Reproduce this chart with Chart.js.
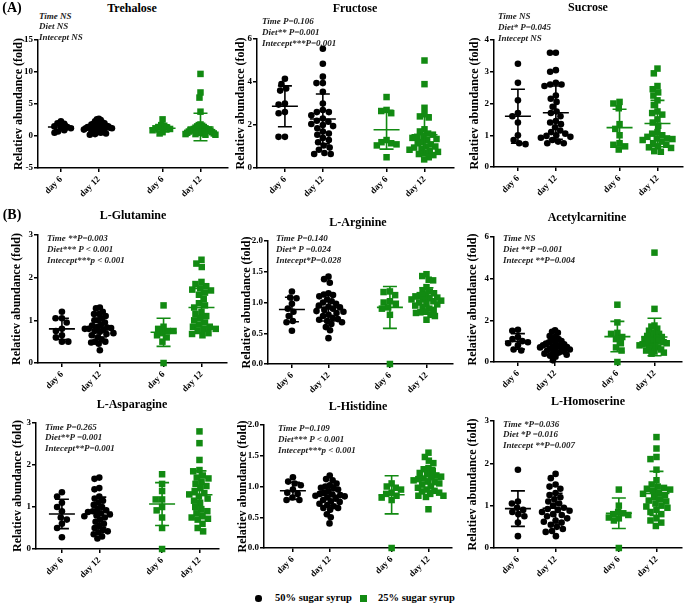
<!DOCTYPE html>
<html><head><meta charset="utf-8">
<script src="https://cdn.jsdelivr.net/npm/chart.js@4"></script>
<style>
html,body{margin:0;padding:0;background:#fff;}
#wrap{position:relative;width:685px;height:605px;overflow:hidden;font-family:"Liberation Serif","Times New Roman",serif;}
canvas{position:absolute;}
.t{position:absolute;transform:translate(-50%,-50%);font-weight:bold;font-size:12px;white-space:nowrap;color:#000;}
.lab{position:absolute;transform:translate(-50%,-50%);font-weight:bold;font-size:14px;white-space:nowrap;color:#000;}
.a{position:absolute;font-weight:bold;font-style:italic;font-size:9px;white-space:nowrap;color:#222;line-height:11px;}
.lg{position:absolute;font-weight:bold;font-size:10.5px;white-space:nowrap;color:#000;line-height:12px;}
.mk{position:absolute;}
</style></head>
<body><div id="wrap"></div>
<script>
// ---------- data ----------
const CATEGORIES = ['day 6', 'day 12', 'day 6', 'day 12'];
const SERIES = ['50% sugar syrup', '25% sugar syrup'];
const Y_TITLE = 'Relatiev abundance (fold)';

const trehalose_50 = [[2.0, 1.9, 2.3, 1.5, 1.4, 1.3, 1.2, 0.9, 0.7, 0.5],
  [2.7, 2.6, 2.5, 2.3, 2.1, 2.0, 1.9, 1.8, 1.7, 1.6, 1.6, 1.5, 1.5, 1.4, 1.4, 1.3, 1.3, 1.2, 1.2, 1.1, 1.0, 1.0, 0.9, 0.8, 0.7, 0.6, 0.5, 0.4, 0.3, 0.2]];
const trehalose_25 = [[2.6, 1.7, 1.6, 1.4, 1.3, 1.2, 1.1, 0.9, 0.6, 0.4],
  [9.7, 6.8, 6.0, 3.8, 1.8, 1.7, 1.6, 1.5, 1.4, 1.3, 1.2, 1.1, 1.0, 1.0, 0.9, 0.9, 0.8, 0.8, 0.7, 0.7, 0.6, 0.6, 0.5, 0.5, 0.4, 0.4, 0.3, 0.3, 0.2, 0.2]];
const trehalose_mean = [1.4, 1.45, 1.2, 1.4];
const trehalose_sd = [0.45, 0.6, 0.55, 2.15];
const trehalose_yticks = [-5, 0, 5, 10, 15];
const trehalose_stats = ['Time NS', 'Diet NS', 'Intecept NS'];

const fructose_50 = [[4.15, 3.9, 3.7, 3.6, 3.0, 2.95, 2.6, 2.55, 1.45, 1.45],
  [5.55, 4.85, 4.25, 3.95, 3.95, 3.55, 3.0, 2.7, 2.6, 2.6, 2.45, 2.3, 2.2, 2.15, 2.05, 2.0, 1.95, 1.85, 1.7, 1.6, 1.55, 1.4, 1.3, 1.2, 1.05, 0.95, 0.85, 0.7, 0.65, 0.65]];
const fructose_25 = [[3.3, 2.7, 2.65, 2.55, 1.3, 1.2, 1.15, 1.1, 1.05, 0.5],
  [5.0, 3.9, 2.8, 2.5, 2.4, 2.35, 1.8, 1.7, 1.6, 1.55, 1.5, 1.45, 1.4, 1.35, 1.3, 1.2, 1.15, 1.1, 1.0, 1.0, 0.95, 0.9, 0.85, 0.8, 0.75, 0.7, 0.65, 0.6, 0.5, 0.4]];
const fructose_mean = [2.87, 2.28, 1.78, 1.55];
const fructose_sd = [0.95, 1.16, 0.9, 0.93];
const fructose_yticks = [0, 2, 4, 6];
const fructose_stats = ['Time P=0.106', 'Diet** P=0.001', 'Intecept***P=0.001'];

const sucrose_50 = [[3.25, 2.65, 2.1, 1.7, 1.6, 1.4, 1.0, 0.85, 0.75, 0.72],
  [3.6, 3.6, 3.05, 3.0, 2.65, 2.6, 2.6, 2.55, 2.25, 2.15, 2.05, 1.9, 1.75, 1.7, 1.6, 1.45, 1.4, 1.35, 1.25, 1.15, 1.1, 1.05, 1.0, 0.98, 0.95, 0.92, 0.85, 0.8, 0.75, 0.75]];
const sucrose_25 = [[2.05, 2.0, 1.85, 1.35, 1.2, 1.0, 0.75, 0.7, 0.65, 0.55],
  [3.1, 2.95, 2.55, 2.45, 2.35, 2.25, 2.1, 1.95, 1.75, 1.7, 1.65, 1.5, 1.4, 1.3, 1.1, 1.05, 1.0, 0.95, 0.9, 0.9, 0.88, 0.85, 0.8, 0.75, 0.7, 0.65, 0.62, 0.6, 0.5, 0.48]];
const sucrose_mean = [1.6, 1.71, 1.24, 1.37];
const sucrose_sd = [0.85, 0.84, 0.58, 0.73];
const sucrose_yticks = [0, 1, 2, 3, 4];
const sucrose_stats = ['Time NS', 'Diet* P=0.045', 'Intecept NS'];

const glutamine_50 = [[1.2, 1.05, 1.05, 0.95, 0.8, 0.75, 0.65, 0.6, 0.5, 0.5],
  [1.28, 1.3, 1.2, 1.15, 1.15, 1.1, 1.05, 1.0, 1.0, 0.95, 0.9, 0.88, 0.85, 0.83, 0.82, 0.8, 0.8, 0.78, 0.75, 0.73, 0.7, 0.68, 0.65, 0.6, 0.55, 0.5, 0.5, 0.48, 0.45, 0.3]];
const glutamine_25 = [[1.35, 0.85, 0.8, 0.75, 0.75, 0.7, 0.65, 0.6, 0.5, 0.0],
  [2.42, 2.33, 2.25, 1.9, 1.85, 1.8, 1.75, 1.72, 1.7, 1.65, 1.6, 1.5, 1.4, 1.35, 1.3, 1.2, 1.15, 1.1, 1.05, 1.0, 0.95, 0.9, 0.85, 0.85, 0.8, 0.8, 0.75, 0.7, 0.68, 0.65]];
const glutamine_mean = [0.8, 0.83, 0.72, 1.3];
const glutamine_sd = [0.25, 0.22, 0.33, 0.45];
const glutamine_yticks = [0, 1, 2, 3];
const glutamine_stats = ['Time **P=0.003', 'Diet*** P < 0.001', 'Intecept***p < 0.001'];

const arginine_50 = [[1.18, 1.08, 1.07, 0.98, 0.9, 0.85, 0.78, 0.7, 0.68, 0.54],
  [1.42, 1.38, 1.32, 1.15, 1.13, 1.12, 1.1, 1.05, 1.02, 1.0, 0.98, 0.95, 0.93, 0.92, 0.9, 0.88, 0.86, 0.85, 0.83, 0.8, 0.78, 0.75, 0.73, 0.72, 0.7, 0.68, 0.65, 0.6, 0.55, 0.42]];
const arginine_25 = [[1.18, 1.17, 1.12, 1.02, 1.0, 0.98, 0.92, 0.9, 0.8, 0.0],
  [1.46, 1.43, 1.37, 1.36, 1.25, 1.2, 1.18, 1.15, 1.13, 1.12, 1.1, 1.08, 1.07, 1.05, 1.05, 1.03, 1.02, 1.0, 0.98, 0.97, 0.95, 0.93, 0.9, 0.88, 0.85, 0.84, 0.83, 0.8, 0.78, 0.72]];
const arginine_mean = [0.886, 0.92, 0.92, 1.06];
const arginine_sd = [0.2, 0.22, 0.34, 0.18];
const arginine_yticks = [0, 0.5, 1, 1.5, 2];
const arginine_stats = ['Time P=0.140', 'Diet* P =0.024', 'Intecept*P=0.028'];

const acetylcarnitine_50 = [[1.55, 1.5, 1.2, 1.1, 1.0, 0.95, 0.9, 0.8, 0.6, 0.55],
  [1.52, 1.45, 1.4, 1.25, 1.2, 1.1, 1.05, 1.0, 0.95, 0.9, 0.88, 0.85, 0.8, 0.78, 0.75, 0.72, 0.7, 0.68, 0.65, 0.6, 0.58, 0.55, 0.5, 0.45, 0.42, 0.4, 0.35, 0.3, 0.25, 0.08]];
const acetylcarnitine_25 = [[2.75, 1.9, 1.4, 1.35, 1.2, 1.1, 0.9, 0.7, 0.55, 0.0],
  [5.25, 2.55, 1.75, 1.7, 1.6, 1.5, 1.4, 1.35, 1.3, 1.25, 1.2, 1.15, 1.1, 1.05, 1.0, 1.0, 0.95, 0.9, 0.9, 0.85, 0.8, 0.8, 0.75, 0.7, 0.65, 0.6, 0.55, 0.5, 0.45, 0.4]];
const acetylcarnitine_mean = [0.99, 0.75, 1.22, 1.2];
const acetylcarnitine_sd = [0.37, 0.36, 0.73, 0.9];
const acetylcarnitine_yticks = [0, 2, 4, 6];
const acetylcarnitine_stats = ['Time NS', 'Diet **P =0.001', 'Intecept **P=0.004'];

const asparagine_50 = [[1.35, 1.25, 1.1, 1.0, 0.9, 0.75, 0.7, 0.6, 0.5, 0.28],
  [1.7, 1.67, 1.45, 1.42, 1.25, 1.2, 1.15, 1.1, 1.05, 1.0, 0.95, 0.92, 0.9, 0.88, 0.85, 0.82, 0.8, 0.78, 0.75, 0.7, 0.65, 0.6, 0.55, 0.5, 0.45, 0.42, 0.4, 0.35, 0.3, 0.25]];
const asparagine_25 = [[1.78, 1.55, 1.38, 1.18, 1.18, 1.0, 0.92, 0.75, 0.5, 0.0],
  [2.8, 2.52, 2.12, 1.88, 1.85, 1.75, 1.7, 1.68, 1.6, 1.55, 1.5, 1.45, 1.38, 1.33, 1.3, 1.25, 1.2, 1.15, 1.1, 1.0, 0.95, 0.9, 0.85, 0.8, 0.75, 0.72, 0.7, 0.6, 0.5, 0.42]];
const asparagine_mean = [0.835, 0.875, 1.07, 1.29];
const asparagine_sd = [0.35, 0.36, 0.51, 0.57];
const asparagine_yticks = [0, 1, 2, 3];
const asparagine_stats = ['Time P=0.265', 'Diet**P =0.001', 'Intecept**P=0.001'];

const histidine_50 = [[1.15, 1.08, 1.05, 1.02, 0.95, 0.9, 0.88, 0.82, 0.78, 0.78],
  [1.18, 1.12, 1.1, 1.05, 1.02, 1.0, 0.98, 0.97, 0.95, 0.92, 0.9, 0.88, 0.87, 0.86, 0.85, 0.84, 0.82, 0.8, 0.78, 0.76, 0.75, 0.72, 0.7, 0.68, 0.65, 0.65, 0.62, 0.55, 0.5, 0.4]];
const histidine_25 = [[1.05, 1.0, 0.98, 0.95, 0.9, 0.88, 0.85, 0.82, 0.78, 0.0],
  [1.55, 1.48, 1.42, 1.38, 1.3, 1.28, 1.25, 1.22, 1.2, 1.18, 1.16, 1.15, 1.13, 1.12, 1.1, 1.08, 1.07, 1.05, 1.03, 1.0, 0.98, 0.95, 0.93, 0.92, 0.9, 0.88, 0.85, 0.85, 0.83, 0.63]];
const histidine_mean = [0.93, 0.855, 0.865, 1.12];
const histidine_sd = [0.14, 0.17, 0.31, 0.19];
const histidine_yticks = [0, 0.5, 1, 1.5, 2];
const histidine_stats = ['Time P=0.109', 'Diet*** P < 0.001', 'Intecept***p < 0.001'];

const homoserine_50 = [[1.85, 1.1, 1.05, 0.95, 0.9, 0.85, 0.8, 0.75, 0.6, 0.28],
  [1.75, 1.65, 1.5, 1.45, 1.4, 1.3, 1.25, 1.2, 1.15, 1.1, 1.05, 1.0, 0.95, 0.92, 0.9, 0.88, 0.85, 0.8, 0.78, 0.75, 0.7, 0.65, 0.62, 0.6, 0.55, 0.5, 0.45, 0.4, 0.38, 0.28]];
const homoserine_25 = [[1.38, 1.0, 0.85, 0.82, 0.8, 0.78, 0.72, 0.7, 0.65, 0.0],
  [2.62, 2.35, 2.15, 2.1, 1.85, 1.6, 1.5, 1.45, 1.42, 1.4, 1.38, 1.35, 1.3, 1.28, 1.25, 1.2, 1.15, 1.12, 1.1, 1.05, 1.0, 0.98, 0.95, 0.9, 0.85, 0.8, 0.7, 0.65, 0.6, 0.52]];
const homoserine_mean = [0.93, 0.94, 0.82, 1.29];
const homoserine_sd = [0.42, 0.35, 0.36, 0.52];
const homoserine_yticks = [0, 1, 2, 3];
const homoserine_stats = ['Time *P=0.036', 'Diet *P =0.016', 'Intecept **P=0.007'];

// ---------- layout (pixel placement of each panel) ----------
const BLACK = '#000000', GREEN = '#128a12';
const POS = [0, 1, 2.68, 3.68];
const PANELS = [
  {title: 'Trehalose', d50: trehalose_50, d25: trehalose_25, mean: trehalose_mean, sd: trehalose_sd, yt: trehalose_yticks, stats: trehalose_stats,
   L: 38, R: 228, T: 40, B: 168, c1: 61, c4: 201, tx: 132, ty: 8, ax: 39, ay: 16, ad: 10.5, yto: 19},
  {title: 'Fructose', d50: fructose_50, d25: fructose_25, mean: fructose_mean, sd: fructose_sd, yt: fructose_yticks, stats: fructose_stats,
   L: 257, R: 454, T: 39, B: 168, c1: 285, c4: 425, tx: 355, ty: 8, ax: 262, ay: 21, ad: 11, yto: 16},
  {title: 'Sucrose', d50: sucrose_50, d25: sucrose_25, mean: sucrose_mean, sd: sucrose_sd, yt: sucrose_yticks, stats: sucrose_stats,
   L: 494, R: 683, T: 40, B: 167, c1: 518, c4: 658, tx: 588, ty: 7, ax: 498, ay: 16, ad: 11, yto: 19},
  {title: 'L-Glutamine', d50: glutamine_50, d25: glutamine_25, mean: glutamine_mean, sd: glutamine_sd, yt: glutamine_yticks, stats: glutamine_stats,
   L: 38, R: 227, T: 235, B: 363, c1: 62, c4: 202, tx: 133, ty: 215, ax: 47, ay: 238, ad: 11, yto: 21},
  {title: 'L-Arginine', d50: arginine_50, d25: arginine_25, mean: arginine_mean, sd: arginine_sd, yt: arginine_yticks, stats: arginine_stats, dec: 1,
   L: 268, R: 453, T: 241, B: 364, c1: 292, c4: 427, tx: 358, ty: 222, ax: 276, ay: 238, ad: 11, yto: 21},
  {title: 'Acetylcarnitine', d50: acetylcarnitine_50, d25: acetylcarnitine_25, mean: acetylcarnitine_mean, sd: acetylcarnitine_sd, yt: acetylcarnitine_yticks, stats: acetylcarnitine_stats,
   L: 494, R: 682, T: 237, B: 362, c1: 518, c4: 655, tx: 587, ty: 217, ax: 503, ay: 238, ad: 11, yto: 21},
  {title: 'L-Asparagine', d50: asparagine_50, d25: asparagine_25, mean: asparagine_mean, sd: asparagine_sd, yt: asparagine_yticks, stats: asparagine_stats,
   L: 36, R: 219, T: 423, B: 549, c1: 62, c4: 200, tx: 132, ty: 404, ax: 45, ay: 427, ad: 10.5, yto: 18},
  {title: 'L-Histidine', d50: histidine_50, d25: histidine_25, mean: histidine_mean, sd: histidine_sd, yt: histidine_yticks, stats: histidine_stats, dec: 1,
   L: 264, R: 452, T: 425, B: 548, c1: 293, c4: 429, tx: 358, ty: 406, ax: 278, ay: 428, ad: 11, yto: 21},
  {title: 'L-Homoserine', d50: homoserine_50, d25: homoserine_25, mean: homoserine_mean, sd: homoserine_sd, yt: homoserine_yticks, stats: homoserine_stats,
   L: 494, R: 682, T: 421, B: 548, c1: 518, c4: 657, tx: 588, ty: 401, ax: 503, ay: 424, ad: 10.5, yto: 21}
];

Chart.defaults.font.family = '"Liberation Serif", "Times New Roman", serif';
Chart.defaults.color = '#000';

// beeswarm horizontal offsets (pixels), then compressed to the group width
function swarm(vals, unitY, d, cap) {
  const order = vals.map((v, i) => i).sort((a, b) => vals[b] - vals[a]);
  const placed = [], off = new Array(vals.length).fill(0);
  for (const i of order) {
    const y = vals[i] * unitY;
    const cands = [0];
    for (const q of placed) {
      const dy = Math.abs(q.y - y);
      if (dy < d) { const dx = Math.sqrt(d * d - dy * dy); cands.push(q.x + dx, q.x - dx); }
    }
    cands.sort((a, b) => Math.abs(a) - Math.abs(b) || a - b);
    let x = cands[cands.length - 1];
    for (const c of cands) {
      if (placed.every(q => (q.x - c) ** 2 + (q.y - y) ** 2 >= d * d - 1e-6)) { x = c; break; }
    }
    placed.push({x, y}); off[i] = x;
  }
  const m = Math.max(...off.map(Math.abs));
  const k = m > cap ? cap / m : 1;
  return off.map(o => o * k);
}

const meanSdPlugin = {
  id: 'meanSd',
  afterDatasetsDraw(chart, args, opts) {
    const {ctx, scales: {x, y}} = chart;
    ctx.save();
    ctx.lineWidth = 1.6;
    opts.groups.forEach(g => {
      const px = x.getPixelForValue(g.pos);
      const ym = y.getPixelForValue(g.mean);
      const yt = y.getPixelForValue(g.mean + g.sd);
      const yb = y.getPixelForValue(g.mean - g.sd);
      ctx.strokeStyle = g.color;
      ctx.beginPath();
      ctx.moveTo(px - 13, ym); ctx.lineTo(px + 13, ym);
      ctx.moveTo(px, yt); ctx.lineTo(px, yb);
      ctx.moveTo(px - 7, yt); ctx.lineTo(px + 7, yt);
      ctx.moveTo(px - 7, yb); ctx.lineTo(px + 7, yb);
      ctx.stroke();
    });
    ctx.restore();
  }
};

const wrap = document.getElementById('wrap');
const AX = 36, PT = 10, PR = 4, XH = 38, PB = 2, D = 6.4;

PANELS.forEach(p => {
  const unitX = (p.c4 - p.c1) / POS[3];
  const xmin = -(p.c1 - p.L) / unitX, xmax = (p.R - p.c1) / unitX;
  const yt = p.yt, ymin = yt[0], ymax = yt[yt.length - 1];
  const unitY = (p.B - p.T) / (ymax - ymin);
  const pts = (groups, g0) => groups.flatMap((vals, k) => {
    const offs = swarm(vals, unitY, D, vals.length <= 12 ? 10 : 15);
    return vals.map((v, i) => ({x: POS[g0 + k] + offs[i] / unitX, y: v}));
  });
  const cv = document.createElement('canvas');
  const w = p.R - p.L + AX + PR, h = p.B - p.T + PT + XH + PB;
  cv.width = w; cv.height = h;
  cv.style.left = (p.L - AX) + 'px'; cv.style.top = (p.T - PT) + 'px';
  wrap.appendChild(cv);
  const groups = [0, 1, 2, 3].map(i => ({pos: POS[i], mean: p.mean[i], sd: p.sd[i], color: i < 2 ? BLACK : GREEN}));
  const axisCommon = {
    grid: {drawOnChartArea: false, drawTicks: true, tickLength: 4, color: '#000', lineWidth: 1.5},
    border: {color: '#000', width: 1.5}
  };
  new Chart(cv, {
    type: 'scatter',
    data: {datasets: [
      {label: SERIES[0], data: pts(p.d50, 0), pointStyle: 'circle', pointRadius: 3.3, pointBorderWidth: 0, backgroundColor: BLACK, borderColor: BLACK, clip: false},
      {label: SERIES[1], data: pts(p.d25, 2), pointStyle: 'rect', pointRadius: 4.6, pointBorderWidth: 0, backgroundColor: GREEN, borderColor: GREEN, clip: false}
    ]},
    options: {
      responsive: false, animation: false, events: [],
      layout: {padding: {left: 0, top: PT, right: PR, bottom: PB}},
      plugins: {legend: {display: false}, tooltip: {enabled: false}, meanSd: {groups}},
      scales: {
        x: Object.assign({
          type: 'linear', min: xmin, max: xmax,
          afterBuildTicks: s => { s.ticks = POS.map(v => ({value: v})); },
          afterFit: s => { s.height = XH; s.paddingLeft = 0; s.paddingRight = 0; },
          ticks: {autoSkip: false, minRotation: 45, maxRotation: 45, padding: 2,
                  font: {size: 9, weight: 'bold'}, callback: v => CATEGORIES[POS.indexOf(v)] ?? ''}
        }, axisCommon),
        y: Object.assign({
          type: 'linear', min: ymin, max: ymax,
          afterBuildTicks: s => { s.ticks = yt.map(v => ({value: v})); },
          afterFit: s => { s.width = AX; s.paddingTop = 0; s.paddingBottom = 0; },
          ticks: {padding: 1, font: {size: 9, weight: 'bold'}, callback: v => p.dec ? v.toFixed(1) : String(v)},
          title: {display: true, text: Y_TITLE, font: {size: 12, weight: 'bold'}, padding: {top: AX - p.yto - 7.2, bottom: 0}}
        }, axisCommon)
      }
    },
    plugins: [meanSdPlugin]
  });
  const t = document.createElement('div'); t.className = 't'; t.textContent = p.title;
  t.style.left = p.tx + 'px'; t.style.top = p.ty + 'px'; wrap.appendChild(t);
  p.stats.forEach((s, k) => {
    const a = document.createElement('div'); a.className = 'a'; a.textContent = s;
    a.style.left = p.ax + 'px'; a.style.top = (p.ay + k * p.ad - 5.5) + 'px'; wrap.appendChild(a);
  });
});

// panel labels
[['(A)', 12, 8], ['(B)', 12, 215]].forEach(([s, x, y]) => {
  const d = document.createElement('div'); d.className = 'lab'; d.textContent = s;
  d.style.left = x + 'px'; d.style.top = y + 'px'; wrap.appendChild(d);
});
// legend
(function () {
  const c = document.createElement('div'); c.className = 'mk';
  Object.assign(c.style, {left: '255px', top: '595px', width: '6.5px', height: '6.5px', borderRadius: '50%', background: BLACK});
  wrap.appendChild(c);
  const s = document.createElement('div'); s.className = 'mk';
  Object.assign(s.style, {left: '360px', top: '595px', width: '6.5px', height: '6.5px', background: GREEN});
  wrap.appendChild(s);
  [[SERIES[0], 275], [SERIES[1], 378]].forEach(([txt, x]) => {
    const d = document.createElement('div'); d.className = 'lg'; d.textContent = txt;
    d.style.left = x + 'px'; d.style.top = '592px'; wrap.appendChild(d);
  });
})();
</script>
</body></html>
